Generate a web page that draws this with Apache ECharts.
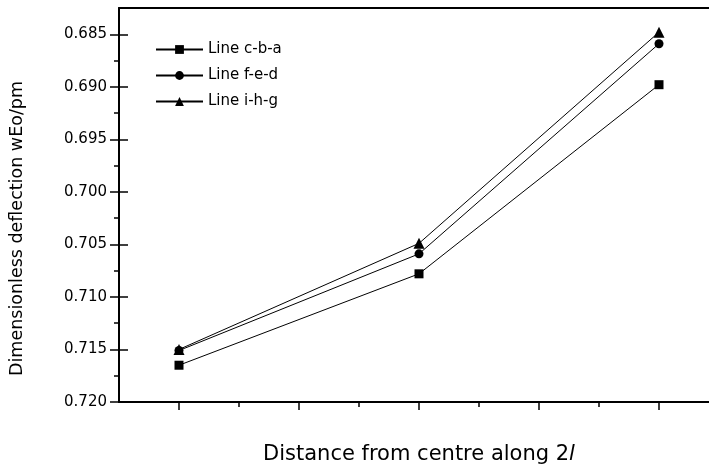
<!DOCTYPE html>
<html>
<head>
<meta charset="utf-8">
<script src="https://cdn.jsdelivr.net/npm/echarts@6/dist/echarts.min.js"></script>
<style>
  html, body { margin: 0; padding: 0; background: #fff; overflow: hidden; }
  #chart { width: 709px; height: 475px; overflow: hidden; }
</style>
</head>
<body>
<div id="chart"></div>
<script>
// positions along 2l (no labels on the axis in the original)
var xPos = [0, 1, 2];
var lineCBA = [0.7165, 0.7078, 0.6898];
var lineFED = [0.7151, 0.7059, 0.6859];
var lineIHG = [0.7150, 0.7049, 0.6848];
var seriesNames = ['Line c-b-a', 'Line f-e-d', 'Line i-h-g'];

// tick values
var yMajor = [0.685, 0.690, 0.695, 0.700, 0.705, 0.710, 0.715, 0.720];
var yMinor = [0.6875, 0.6925, 0.6975, 0.7025, 0.7075, 0.7125, 0.7175];
var xMajor = [0, 0.5, 1, 1.5, 2];
var xMinor = [0.25, 0.75, 1.25, 1.75];

var FONT = 'DejaVu Sans';

function pairs(ys) {
    return xPos.map(function (x, i) { return [x, ys[i]]; });
}

function yAx(extra) {
    var base = {
        type: 'value',
        min: 0.6825,
        max: 0.72,
        inverse: true,
        position: 'left',
        offset: 0,
        splitLine: { show: false },
        axisLine: { show: false, onZero: false },
        axisLabel: { show: false },
        axisTick: { show: false }
    };
    for (var k in extra) base[k] = extra[k];
    return base;
}

function xAx(extra) {
    var base = {
        type: 'value',
        min: -0.25,
        max: 2.25,
        position: 'bottom',
        offset: 0,
        splitLine: { show: false },
        axisLine: { show: false, onZero: false },
        axisLabel: { show: false },
        axisTick: { show: false }
    };
    for (var k in extra) base[k] = extra[k];
    return base;
}

var chart = echarts.init(document.getElementById('chart'));

var symbols = ['rect', 'circle', 'triangle'];
var datas = [lineCBA, lineFED, lineIHG];
var axisLine = { show: true, onZero: false, lineStyle: { color: '#000', width: 2 } };
var tickStyle = { color: '#000', width: 1.5 };

var option = {
    backgroundColor: '#fff',
    animation: false,
    grid: {
        left: 119, width: 600, top: 8, bottom: 73,
        outerBoundsMode: 'none',
        containLabel: false
    },
    legend: {
        orient: 'vertical',
        left: 150,
        top: 37,
        itemWidth: 47,
        itemHeight: 11,
        itemGap: 11,
        data: seriesNames,
        textStyle: { fontFamily: FONT, fontSize: 15, color: '#000', lineHeight: 15 }
    },
    xAxis: [
        xAx({
            axisLine: axisLine,
            axisTick: { show: true, customValues: xMajor, length: 8, lineStyle: tickStyle },
            name: '{n|Distance from centre along 2}{i|l}',
            nameLocation: 'middle',
            nameGap: 42,
            nameTextStyle: {
                rich: {
                    n: { fontFamily: FONT, fontSize: 21, color: '#000' },
                    i: { fontFamily: FONT, fontSize: 21, color: '#000', fontStyle: 'italic' }
                }
            }
        }),
        // minor ticks
        xAx({
            axisTick: { show: true, customValues: xMinor, length: 5, lineStyle: tickStyle }
        }),
        // top frame line
        xAx({ position: 'top', axisLine: axisLine })
    ],
    yAxis: [
        yAx({
            axisLine: axisLine,
            axisLabel: {
                show: true,
                customValues: yMajor,
                margin: 12,
                fontFamily: FONT,
                fontSize: 15,
                color: '#000',
                formatter: function (v) { return v.toFixed(3); }
            },
            name: 'Dimensionless deflection wEo/pm',
            nameLocation: 'middle',
            nameRotate: 90,
            nameGap: 93,
            nameTextStyle: { fontFamily: FONT, fontSize: 17.5, color: '#000', padding: [0, 47, 0, 0] }
        }),
        // major ticks crossing the axis line
        yAx({
            offset: -9,
            axisTick: { show: true, customValues: yMajor, length: 18, lineStyle: tickStyle }
        }),
        // minor ticks
        yAx({
            axisTick: { show: true, customValues: yMinor, length: 5, lineStyle: tickStyle }
        })
    ],
    series: seriesNames.map(function (name, i) {
        return {
            name: name,
            type: 'line',
            xAxisIndex: 0,
            yAxisIndex: 0,
            data: pairs(datas[i]),
            symbol: symbols[i],
            symbolSize: i === 2 ? 11 : 9,
            showAllSymbol: true,
            itemStyle: { color: '#000' },
            lineStyle: { color: '#000', width: 1 }
        };
    })
};

chart.setOption(option);
</script>
</body>
</html>
